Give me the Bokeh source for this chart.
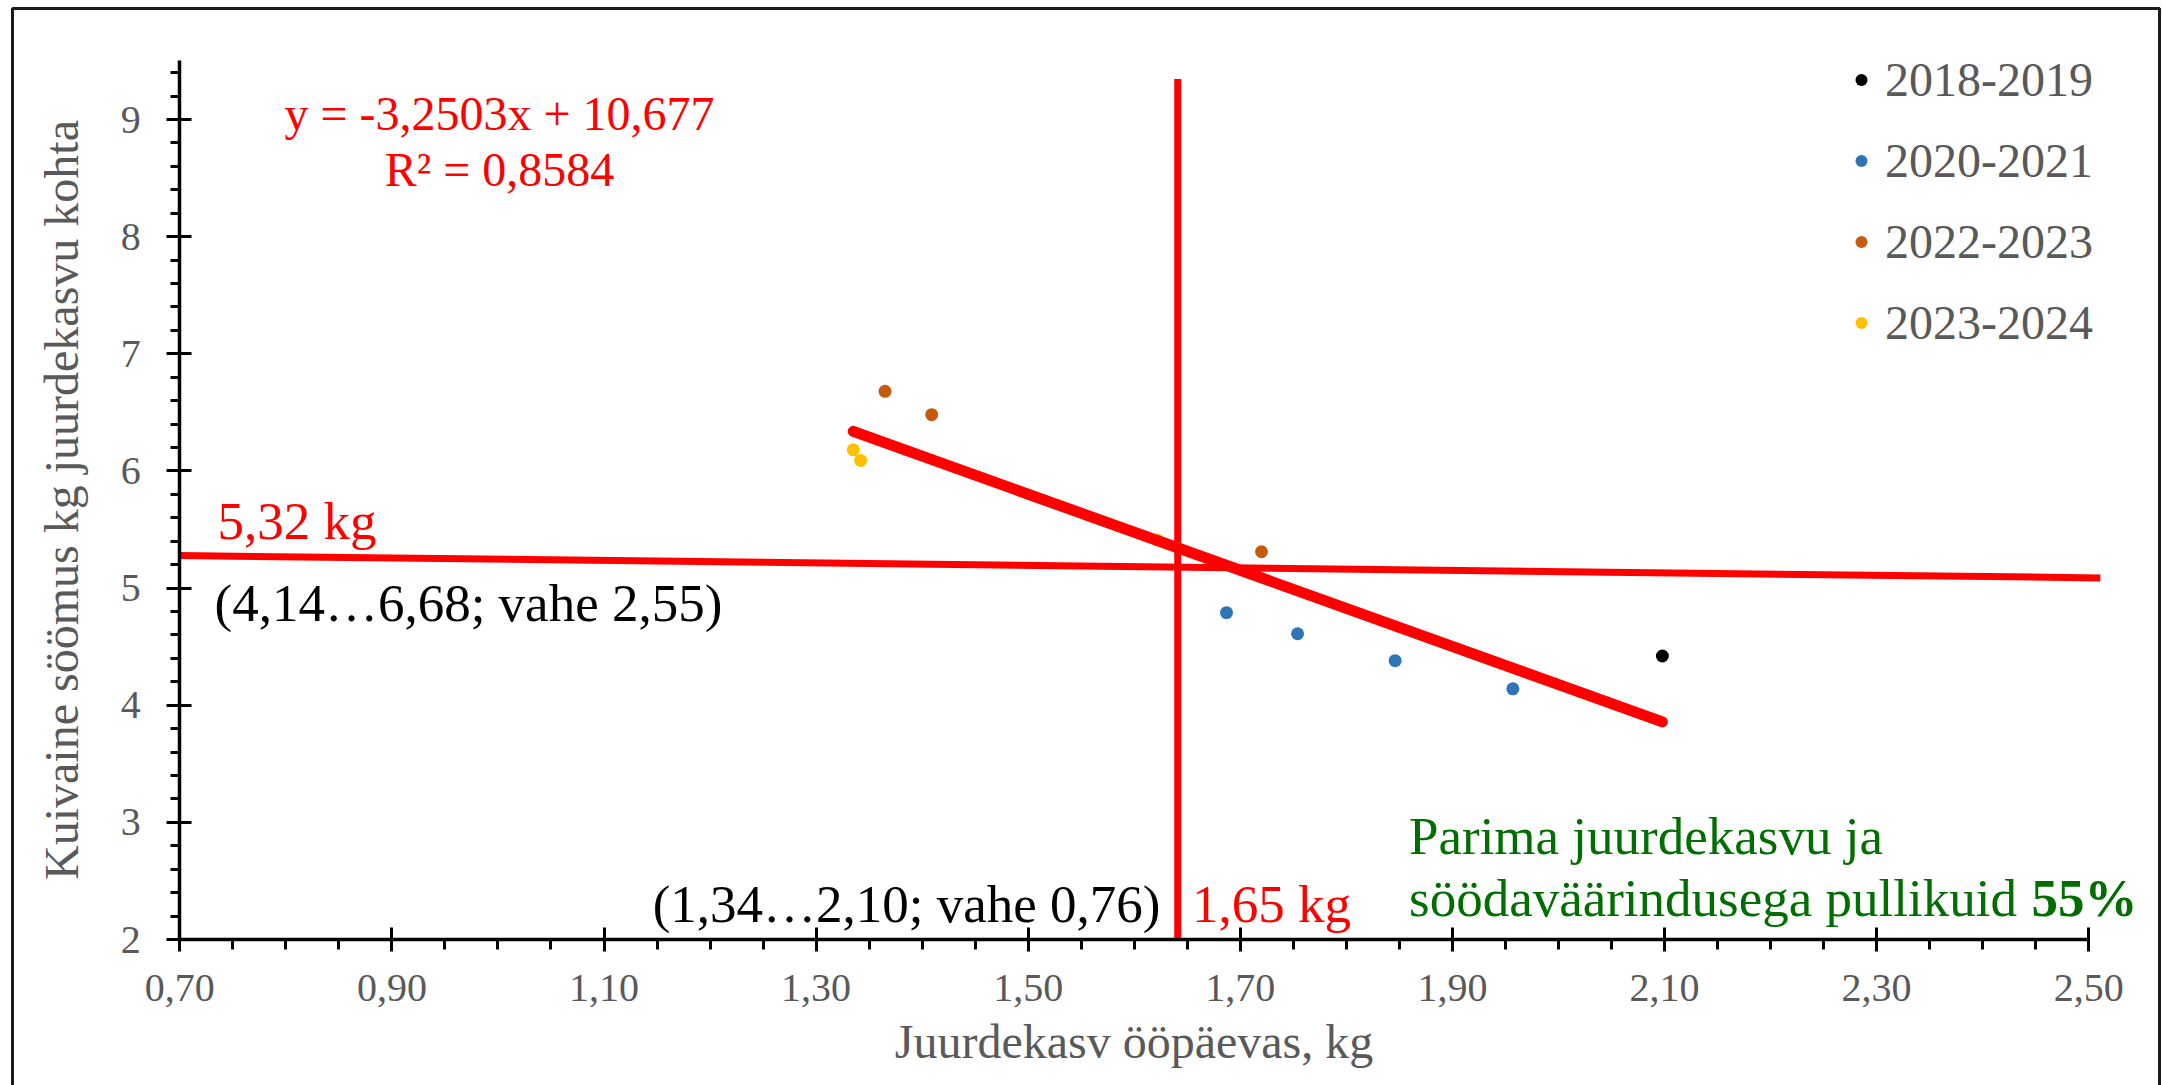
from bokeh.plotting import figure
from bokeh.models import Range1d, FixedTicker, Label, Legend, LegendItem, BoxAnnotation
from bokeh.embed import file_html
from bokeh.resources import INLINE
import numpy as np

# ---------------- data ----------------
series_names = ["2018-2019", "2020-2021", "2022-2023", "2023-2024"]
series_colors = ["#000000", "#2E75B6", "#C55A11", "#FFC000"]

x_2018_2019 = [2.098]
y_2018_2019 = [4.42]
x_2020_2021 = [1.687, 1.754, 1.846, 1.957]
y_2020_2021 = [4.79, 4.61, 4.38, 4.14]
x_2022_2023 = [1.365, 1.409, 1.720]
y_2022_2023 = [6.68, 6.48, 5.31]
x_2023_2024 = [1.335, 1.342, 1.622]
y_2023_2024 = [6.18, 6.09, 5.41]

trend_slope = -3.2503
trend_intercept = 10.677
r_squared = 0.8584

# reference lines drawn on the chart
vline_x = [1.641, 1.641]
vline_y = [2.0, 9.345]
hline_x = [0.70, 2.511]
hline_y = [5.278, 5.087]

x_ticks = [0.70, 0.90, 1.10, 1.30, 1.50, 1.70, 1.90, 2.10, 2.30, 2.50]
x_tick_labels = ["0,70", "0,90", "1,10", "1,30", "1,50", "1,70", "1,90", "2,10", "2,30", "2,50"]
y_ticks = [2, 3, 4, 5, 6, 7, 8, 9]
y_tick_labels = ["2", "3", "4", "5", "6", "7", "8", "9"]

x_title = "Juurdekasv ööpäevas, kg"
y_title = "Kuivaine söömus kg juurdekasvu kohta"
hline_label = "5,32 kg"
hline_range_label = "(4,14…6,68; vahe 2,55)"
vline_label = "1,65 kg"
vline_range_label = "(1,34…2,10; vahe 0,76)"
note_line1 = "Parima juurdekasvu ja"
note_line2 = "söödaväärindusega pullikuid "
note_bold = "55%"

FONT = "Liberation Serif"
GRAY = "#595959"
RED = "#FF0000"
GREEN = "#006E00"

W, H = 2163, 1085
# pixel geometry of the plotting area (axis origin and scale)
X0, Y0 = 179.3, 939.0          # pixel of (0.70, 2)
KX, KY = 1060.5, 117.14        # pixels per unit


def dx(px):
    return 0.70 + (px - X0) / KX


def dy(py):
    return 2.0 + (Y0 - py) / KY


p = figure(width=W, height=H,
           x_range=Range1d(dx(0), dx(W)), y_range=Range1d(dy(H), dy(0)),
           output_backend="svg", toolbar_location=None, min_border=0)
p.outline_line_color = None
p.xgrid.visible = False
p.ygrid.visible = False
p.background_fill_color = "white"
p.border_fill_color = "white"

# ---------------- axes ----------------
xa = p.xaxis[0]
xa.ticker = FixedTicker(ticks=x_ticks,
                        minor_ticks=list(np.round(np.arange(0.70, 2.5001, 0.05), 2)))
xa.major_label_overrides = dict(zip(x_ticks, x_tick_labels))
xa.bounds = (0.70, 2.50)
xa.fixed_location = 2.0
xa.major_tick_in = 12
xa.major_tick_out = 12
xa.minor_tick_in = 0
xa.minor_tick_out = 10
xa.major_label_standoff = 23
xa.axis_label = x_title
xa.axis_label_standoff = 11

ya = p.yaxis[0]
ya.ticker = FixedTicker(ticks=y_ticks,
                        minor_ticks=list(np.round(np.arange(2.0, 9.5001, 0.2), 1)))
ya.major_label_overrides = dict(zip(y_ticks, y_tick_labels))
ya.bounds = (2.0, 9.5)
ya.fixed_location = 0.70
ya.major_tick_in = 12
ya.major_tick_out = 13
ya.minor_tick_in = 0
ya.minor_tick_out = 9
ya.major_label_standoff = 26
ya.axis_label = y_title
ya.axis_label_standoff = 30

for ax in (xa, ya):
    ax.axis_line_color = "black"
    ax.axis_line_width = 3.5
    ax.major_tick_line_color = "black"
    ax.major_tick_line_width = 3
    ax.minor_tick_line_color = "black"
    ax.minor_tick_line_width = 3
    ax.major_label_text_font = FONT
    ax.major_label_text_font_size = "40px"
    ax.major_label_text_color = GRAY
    ax.axis_label_text_font = FONT
    ax.axis_label_text_font_size = "48px"
    ax.axis_label_text_font_style = "normal"
    ax.axis_label_text_color = GRAY

# ---------------- points ----------------
xs_list = [x_2018_2019, x_2020_2021, x_2022_2023, x_2023_2024]
ys_list = [y_2018_2019, y_2020_2021, y_2022_2023, y_2023_2024]
renderers = []
for xs, ys, c in zip(xs_list, ys_list, series_colors):
    r = p.scatter(xs, ys, size=13, fill_color=c, line_color=None)
    renderers.append(r)

# ---------------- reference lines ----------------
p.line(hline_x, hline_y, line_color=RED, line_width=7)
p.line(vline_x, vline_y, line_color=RED, line_width=7)

all_x = [v for xs in xs_list for v in xs]
tx = [min(all_x), max(all_x)]
ty = [trend_slope * v + trend_intercept for v in tx]
p.line(tx, ty, line_color=RED, line_width=11, line_cap="round")

# ---------------- legend ----------------
legend = Legend(items=[LegendItem(label=n, renderers=[r]) for n, r in zip(series_names, renderers)],
                location=(1846, int(H - 363)), orientation="vertical",
                glyph_width=30, glyph_height=81, label_height=81, spacing=0,
                padding=0, margin=0, label_standoff=9,
                border_line_color=None, background_fill_alpha=0,
                label_text_font=FONT, label_text_font_size="48px",
                label_text_color=GRAY, label_text_baseline="middle")
p.add_layout(legend)

# ---------------- texts ----------------
def lab(text, px, py, size, color, align="left", style="normal"):
    p.add_layout(Label(x=dx(px), y=dy(py), text=text, text_font=FONT, text_font_size=size,
                       text_color=color, text_align=align, text_baseline="alphabetic",
                       text_font_style=style))

eq1 = ("y = %.4fx + %.3f" % (trend_slope, trend_intercept)).replace(".", ",")
eq2 = ("R² = %.4f" % r_squared).replace(".", ",")
lab(eq1, 499, 113, "48px", RED, "center")
lab(eq2, 499, 169, "48px", RED, "center")

lab(hline_label, 217, 520, "53px", RED)
lab(hline_range_label, 214, 602, "53px", "black")
lab(vline_range_label, 1160, 903, "53px", "black", "right")
lab(vline_label, 1191.5, 903, "53px", RED)
lab(note_line1, 1408.5, 835, "53px", GREEN)
lab(note_line2, 1408.5, 897, "53px", GREEN)
lab(note_bold, 2137, 897, "53px", GREEN, "right", "bold")

# ---------------- outer frame ----------------
p.add_layout(BoxAnnotation(left=dx(12), right=dx(2159), top=dy(8), bottom=dy(H + 20),
                           fill_alpha=0, line_color="#1A1A1A", line_alpha=1.0, line_width=3))

open("out.html", "w").write(file_html(p, INLINE))
